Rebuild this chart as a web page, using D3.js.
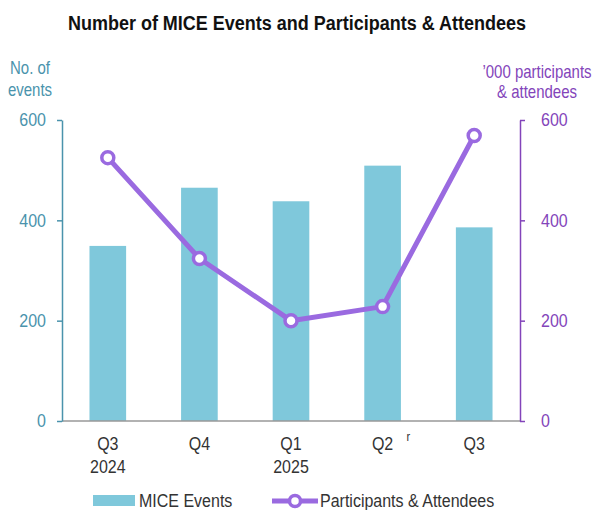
<!DOCTYPE html>
<html>
<head>
<meta charset="utf-8">
<script src="https://cdn.jsdelivr.net/npm/d3@7"></script>
<style>
  body { margin: 0; background: #fff; }
  svg { font-family: "Liberation Sans", Arial, sans-serif; }
</style>
</head>
<body>
<div id="chart"></div>
<script>
// data
var quarters = ['Q3', 'Q4', 'Q1', 'Q2', 'Q3'];
var years = ['2024', '', '2025', '', ''];
var revised = [false, false, false, true, false];
var events = [349, 465, 438, 509, 386];
var participants = [525, 324, 200, 228, 569];
var ticks = [0, 200, 400, 600];

var state = {
    width: 593,
    height: 510,
    barColor: '#7FC8DB',
    lineColor: '#9A6AE0',
    leftColor: '#4A93AC',
    rightColor: '#8344BA',
    textColor: '#333',
    stretch: 1.17
};

var margin = {top: 120, right: 73, bottom: 89, left: 62};
var innerW = state.width - margin.left - margin.right;
var innerH = state.height - margin.top - margin.bottom;

// the reference text is a little taller than Arial, so stretch it vertically
function place(x, y){
    return 'translate(' + x + ',' + y + ') scale(1,' + state.stretch + ')';
}

var svg = d3.select('#chart')
    .append('svg')
        .attr('width', state.width)
        .attr('height', state.height);

//Title
svg.append('text')
    .attr('transform', place(297, 30))
    .attr('text-anchor', 'middle')
    .style('font-size', '18px')
    .style('font-weight', 'bold')
    .style('fill', '#111')
    .text('Number of MICE Events and Participants & Attendees');

var g = svg.append('g')
    .attr('transform', 'translate(' + margin.left + ',' + margin.top + ')');

var idx = d3.range(quarters.length);
var x = d3.scaleBand()
    .domain(idx)
    .range([0, innerW])
    .paddingInner(0.6)
    .paddingOuter(0.3);

var yLeft = d3.scaleLinear().domain([0, 600]).range([innerH, 0]);
var yRight = d3.scaleLinear().domain([0, 600]).range([innerH, 0]);

//Bars
g.selectAll('.bar')
    .data(events)
    .enter()
    .append('rect')
        .attr('class', 'bar')
        .attr('x', function(d, i){ return x(i); })
        .attr('y', function(d){ return yLeft(d); })
        .attr('width', x.bandwidth())
        .attr('height', function(d){ return innerH - yLeft(d); })
        .style('fill', state.barColor);

//Baseline
g.append('line')
    .attr('x1', 0)
    .attr('x2', innerW)
    .attr('y1', innerH)
    .attr('y2', innerH)
    .style('stroke', '#999')
    .style('stroke-width', 1.5);

//Left axis
var leftAxis = g.append('g')
    .call(d3.axisLeft(yLeft).tickValues(ticks).tickSize(5).tickPadding(11).tickSizeOuter(0));
leftAxis.select('.domain').style('stroke', state.leftColor).style('stroke-width', 1.5);
leftAxis.selectAll('.tick line').style('stroke', state.leftColor).style('stroke-width', 1.5);
leftAxis.selectAll('.tick text')
    .attr('transform', 'scale(1,' + state.stretch + ')')
    .style('fill', state.leftColor)
    .style('font-size', '16px')
    .style('font-family', '"Liberation Sans", Arial, sans-serif');

//Right axis
var rightAxis = g.append('g')
    .attr('transform', 'translate(' + innerW + ',0)')
    .call(d3.axisRight(yRight).tickValues(ticks).tickSize(5).tickPadding(16).tickSizeOuter(0));
rightAxis.select('.domain').style('stroke', state.rightColor).style('stroke-width', 1.5);
rightAxis.selectAll('.tick line').style('stroke', state.rightColor).style('stroke-width', 1.5);
rightAxis.selectAll('.tick text')
    .attr('transform', 'scale(1,' + state.stretch + ')')
    .style('fill', state.rightColor)
    .style('font-size', '16px')
    .style('font-family', '"Liberation Sans", Arial, sans-serif');

//Axis titles
var leftTitle = svg.append('text')
    .attr('transform', place(30, 74))
    .attr('text-anchor', 'middle')
    .style('font-size', '15px')
    .style('fill', state.leftColor);
leftTitle.append('tspan').attr('x', 0).attr('y', 0).text('No. of');
leftTitle.append('tspan').attr('x', 0).attr('y', 19).text('events');

var rightTitle = svg.append('text')
    .attr('transform', place(537, 78))
    .attr('text-anchor', 'middle')
    .style('font-size', '15px')
    .style('fill', state.rightColor);
rightTitle.append('tspan').attr('x', 0).attr('y', 0).text('\u2019000 participants');
rightTitle.append('tspan').attr('x', 0).attr('y', 17).text('& attendees');

//Category labels
var cx = function(i){ return x(i) + x.bandwidth() / 2; };
var xl = g.selectAll('.xlabel')
    .data(idx)
    .enter()
    .append('text')
        .attr('class', 'xlabel')
        .attr('transform', function(i){ return place(cx(i), innerH + 29); })
        .attr('text-anchor', 'middle')
        .style('font-size', '16px')
        .style('fill', state.textColor);
xl.append('tspan')
    .attr('x', 0)
    .attr('y', 0)
    .text(function(i){ return quarters[i]; });
xl.append('tspan')
    .attr('x', 0)
    .attr('y', 20)
    .text(function(i){ return years[i]; });

g.selectAll('.rev')
    .data(idx.filter(function(i){ return revised[i]; }))
    .enter()
    .append('text')
        .attr('transform', function(i){ return place(cx(i) + 24, innerH + 20); })
        .style('font-size', '11px')
        .style('fill', state.textColor)
        .text('r');

//Line
var line = d3.line()
    .x(function(d, i){ return cx(i); })
    .y(function(d){ return yRight(d); });

g.append('path')
    .datum(participants)
    .attr('d', line)
    .style('fill', 'none')
    .style('stroke', state.lineColor)
    .style('stroke-width', 5)
    .style('stroke-linejoin', 'round');

g.selectAll('.dot')
    .data(participants)
    .enter()
    .append('circle')
        .attr('class', 'dot')
        .attr('cx', function(d, i){ return cx(i); })
        .attr('cy', function(d){ return yRight(d); })
        .attr('r', 6)
        .style('fill', '#fff')
        .style('stroke', state.lineColor)
        .style('stroke-width', 3.5);

//Legend
var legend = svg.append('g');
legend.append('rect')
    .attr('x', 93)
    .attr('y', 495)
    .attr('width', 42)
    .attr('height', 11)
    .style('fill', state.barColor);
legend.append('text')
    .attr('transform', place(139, 507))
    .style('font-size', '16px')
    .style('fill', state.textColor)
    .text('MICE Events');
legend.append('line')
    .attr('x1', 272)
    .attr('x2', 318)
    .attr('y1', 501)
    .attr('y2', 501)
    .style('stroke', state.lineColor)
    .style('stroke-width', 5);
legend.append('circle')
    .attr('cx', 295)
    .attr('cy', 501)
    .attr('r', 5.5)
    .style('fill', '#fff')
    .style('stroke', state.lineColor)
    .style('stroke-width', 3.5);
legend.append('text')
    .attr('transform', place(320, 507))
    .style('font-size', '16px')
    .style('fill', state.textColor)
    .text('Participants & Attendees');
</script>
</body>
</html>
